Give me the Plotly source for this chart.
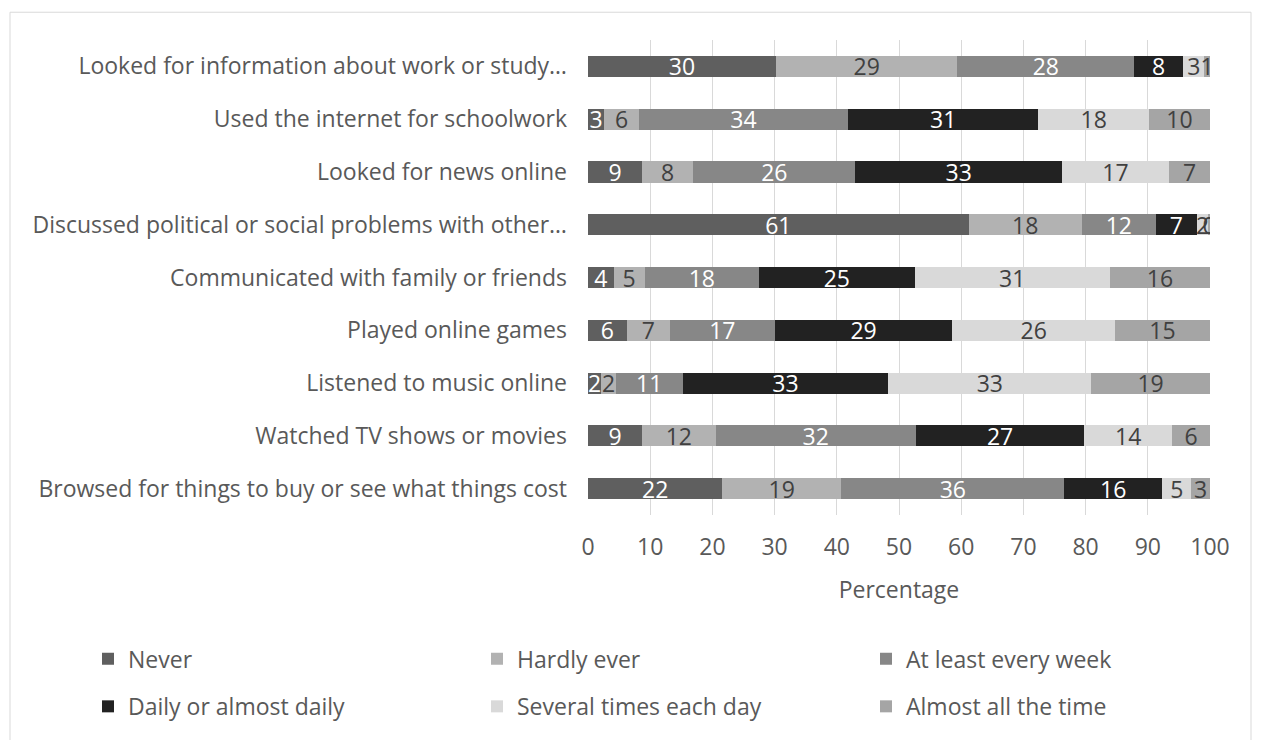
import plotly.graph_objects as go

categories = [
    "Looked for information about work or study…",
    "Used the internet for schoolwork",
    "Looked for news online",
    "Discussed political or social problems with other…",
    "Communicated with family or friends",
    "Played online games",
    "Listened to music online",
    "Watched TV shows or movies",
    "Browsed for things to buy or see what things cost",
]

never = [30.2, 2.6, 8.7, 61.2, 4.1, 6.2, 2.1, 8.7, 21.6]
hardly_ever = [29.2, 5.6, 8.2, 18.2, 5.0, 7.0, 2.4, 11.8, 19.1]
weekly = [28.4, 33.6, 26.1, 11.9, 18.4, 16.8, 10.7, 32.2, 35.9]
daily = [7.9, 30.6, 33.2, 6.6, 25.0, 28.6, 33.1, 27.1, 15.7]
several = [3.4, 17.8, 17.2, 1.8, 31.4, 26.1, 32.6, 14.1, 4.7]
almost_all = [0.9, 9.8, 6.6, 0.3, 16.1, 15.3, 19.1, 6.1, 3.0]

series_names = ["Never", "Hardly ever", "At least every week",
                "Daily or almost daily", "Several times each day", "Almost all the time"]
series_values = [never, hardly_ever, weekly, daily, several, almost_all]
colors = ["#5f5f5f", "#b2b2b2", "#878787", "#222222", "#d9d9d9", "#a5a5a5"]
text_colors = ["#ffffff", "#404040", "#ffffff", "#ffffff", "#404040", "#404040"]
legend_ids = ["legend", "legend", "legend", "legend2", "legend2", "legend2"]

FONT = "Open Sans"
FS = 23

fig = go.Figure()
for name, vals, col, tcol, lg in zip(series_names, series_values, colors, text_colors, legend_ids):
    fig.add_trace(go.Bar(
        y=categories, x=vals, name=name, orientation="h",
        marker=dict(color=col, line=dict(width=0)),
        texttemplate="%{x:.0f}", textposition="inside", insidetextanchor="middle",
        textangle=0, textfont=dict(color=tcol, size=FS, family=FONT),
        legend=lg, hoverinfo="x+name",
    ))

# page has an 8px body margin; figure coords = page coords - 8
OFF = 8
W, H = 1254, 732
L, R, T, B = 588 - OFF, W - (1210 - OFF), 40 - OFF, H - (519 - OFF)
pw = W - L - R
ph = H - T - B


def px_x(p):
    return (p - OFF - L) / pw


def px_y(p):
    return (H - B - (p - OFF)) / ph


legend_common = dict(
    orientation="h", entrywidth=344, entrywidthmode="pixels",
    font=dict(family=FONT, size=FS, color="#595959"),
    xanchor="left", yanchor="middle", bgcolor="rgba(0,0,0,0)",
    traceorder="normal",
)

fig.update_layout(
    width=W, height=H,
    margin=dict(l=L, r=R, t=T, b=B),
    barmode="stack", bargap=0.6,
    paper_bgcolor="white", plot_bgcolor="white",
    font=dict(family=FONT, color="#595959", size=FS),
    uniformtext=dict(minsize=FS, mode="show"),
    xaxis=dict(
        range=[0, 100], dtick=10, tick0=0,
        showgrid=True, gridcolor="#d9d9d9", gridwidth=1,
        zeroline=False, showline=False, ticks="", ticklabelstandoff=16,
        tickfont=dict(family=FONT, size=FS, color="#595959"),
        title=dict(text="Percentage", font=dict(family=FONT, size=FS, color="#595959"), standoff=20),
        fixedrange=True,
    ),
    yaxis=dict(
        autorange="reversed", showgrid=False, zeroline=False, showline=False,
        ticks="", ticklabelstandoff=20,
        tickfont=dict(family=FONT, size=FS, color="#595959"),
        fixedrange=True,
    ),
    legend=dict(x=px_x(88), y=px_y(664), **legend_common),
    legend2=dict(x=px_x(88), y=px_y(712), **legend_common),
    showlegend=True,
    shapes=[dict(type="rect", xref="paper", yref="paper",
                 x0=px_x(10), x1=px_x(1251), y0=px_y(760), y1=px_y(12),
                 line=dict(color="#d9d9d9", width=1), fillcolor="rgba(0,0,0,0)", layer="below")],
)

fig.write_html("out.html")
